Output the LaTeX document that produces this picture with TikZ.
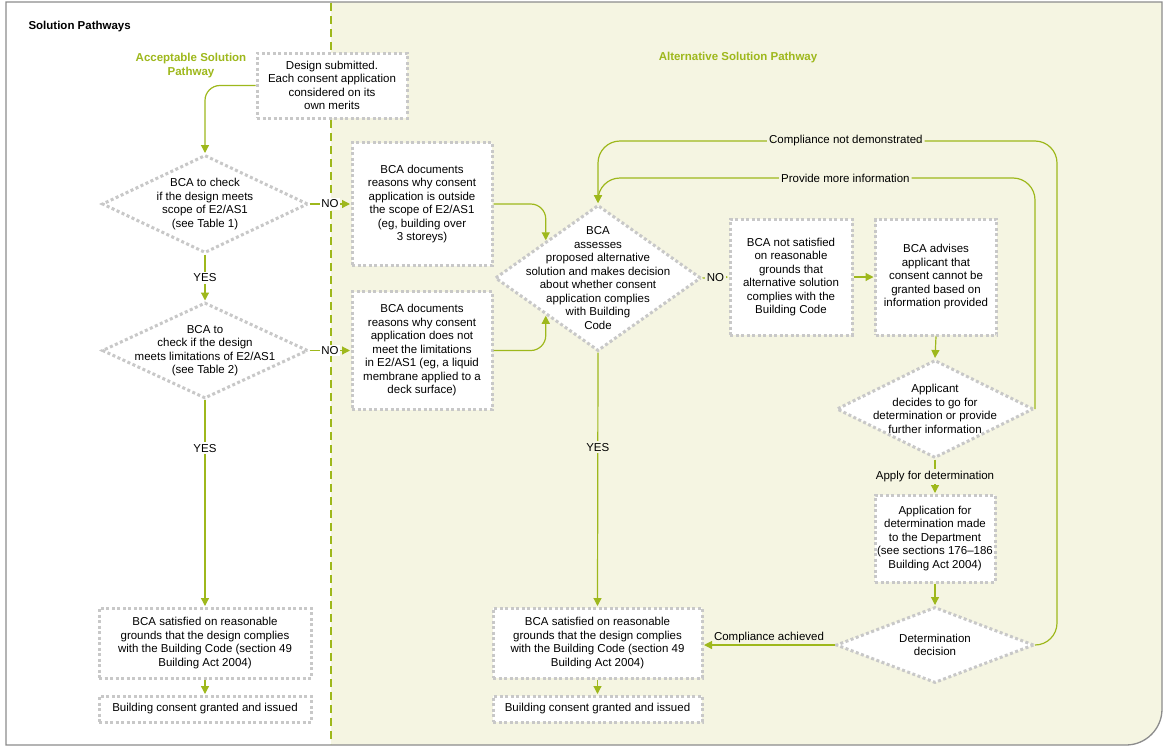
\documentclass[tikz,border=0pt]{standalone}
\usepackage{fontspec}
\setmainfont{Liberation Sans}
\usetikzlibrary{shapes.geometric,arrows.meta,calc}
\definecolor{lgreen}{RGB}{158,184,28}
\definecolor{beige}{RGB}{245,245,226}
\definecolor{dotgray}{RGB}{200,200,200}
\definecolor{framegray}{RGB}{140,140,140}
\newcommand\myfont{\fontsize{11.5}{13.5}\selectfont}
\begin{document}
\begin{tikzpicture}[x=1pt,y=-1pt,
 box/.style={draw=dotgray, line width=3pt, dash pattern=on 3pt off 2.5pt, fill=white, align=center, font=\myfont, inner sep=0pt},
 dia/.style={diamond, draw=dotgray, line width=3pt, dash pattern=on 3pt off 2.5pt, fill=white, inner sep=0pt},
 dtext/.style={align=center, font=\myfont, inner sep=0pt},
 conn/.style={draw=lgreen, line width=1.2pt, -{Triangle[length=8pt,width=8pt]}, shorten >=0.5pt},
 lbl/.style={font=\myfont, fill=white, inner sep=2pt},
 lblb/.style={font=\myfont, fill=beige, inner sep=2pt},
]
\useasboundingbox (0,0) rectangle (1165,747);
\fill[white] (0,0) rectangle (1165,747);
\fill[beige] (331,2) -- (1162,2) -- (1162,709) arc[start angle=0,end angle=90,radius=36] -- (331,745) -- cycle;
\draw[framegray, line width=1.3pt] (6,745) -- (6,2) -- (1162,2) -- (1162,709) arc[start angle=0,end angle=90,radius=36] -- cycle;
\draw[lgreen, line width=1.5pt, dash pattern=on 8pt off 5pt] (331,3) -- (331,744);

% headings
\node[font=\bfseries\myfont, anchor=west] (title) at (25,27) {Solution Pathways};
\node[font=\bfseries\myfont, text=lgreen, align=center] (h1) at (191,65.5) {Acceptable Solution\\Pathway};
\node[font=\bfseries\myfont, text=lgreen] (h2) at (738,58) {Alternative Solution Pathway};

% left column
\node[box, minimum width=150pt, minimum height=65pt] (b0) at (332,85.5) {Design submitted.\\Each consent application\\considered on its\\own merits};
\node[dia, minimum width=206pt, minimum height=98pt, label={[dtext]center:{BCA to check\\if the design meets\\scope of E2/AS1\\(see Table 1)}}] (d1) at (205,204) {};
\node[dia, minimum width=206pt, minimum height=96pt, label={[dtext]center:{BCA to\\check if the design\\meets limitations of E2/AS1\\(see Table 2)}}] (d2) at (205,350.5) {};
\node[box, minimum width=212pt, minimum height=70pt] (bl1) at (205,643) {BCA satisfied on reasonable\\grounds that the design complies\\with the Building Code (section 49\\Building Act 2004)};
\node[box, minimum width=212pt, minimum height=26pt] (bl2) at (205,709) {Building consent granted and issued};

% middle
\node[box, minimum width=140pt, minimum height=123pt] (b3) at (422,204) {BCA documents\\reasons why consent\\application is outside\\the scope of E2/AS1\\(eg, building over\\3 storeys)};
\node[box, minimum width=140pt, minimum height=118pt] (b4) at (422,350.5) {BCA documents\\reasons why consent\\application does not\\meet the limitations\\in E2/AS1 (eg, a liquid\\membrane applied to a\\deck surface)};
\node[dia, minimum width=206pt, minimum height=146pt, label={[dtext]center:{BCA\\assesses\\proposed alternative\\solution and makes decision\\about whether consent\\application complies\\with Building\\Code}}] (d3) at (598,278) {};
\node[box, minimum width=209pt, minimum height=70pt] (b8) at (597.5,643) {BCA satisfied on reasonable\\grounds that the design complies\\with the Building Code (section 49\\Building Act 2004)};
\node[box, minimum width=209pt, minimum height=26pt] (b9) at (597.5,709) {Building consent granted and issued};

% right
\node[box, minimum width=122pt, minimum height=116pt] (b5) at (791,277) {BCA not satisfied\\on reasonable\\grounds that\\alternative solution\\complies with the\\Building Code};
\node[box, minimum width=121pt, minimum height=116pt] (b6) at (936,277) {BCA advises\\applicant that\\consent cannot be\\granted based on\\information provided};
\node[dia, minimum width=197pt, minimum height=98pt, label={[dtext]center:{Applicant\\decides to go for\\determination or provide\\further information}}] (d4) at (935,409) {};
\node[box, minimum width=120pt, minimum height=87pt] (b7) at (935,538.5) {Application for\\determination made\\to the Department\\(see sections 176--186\\Building Act 2004)};
\node[dia, minimum width=198pt, minimum height=76pt, label={[dtext]center:{Determination\\decision}}] (d5) at (935,645) {};

\coordinate (c1) at (1057,141);
\coordinate (c2) at (598,178);
\coordinate (d3a) at ($(d3.north)!0.5!(d3.west)$);
\coordinate (d3b) at ($(d3.south)!0.5!(d3.west)$);

% connectors
\draw[conn, rounded corners=15pt] (b0.west) -| (d1.north);
\draw[conn] (d1.south) -- node[lbl]{YES} (d2.north);
\draw[conn] (d2.south) -- node[lbl, pos=0.234]{YES} (bl1.north);
\draw[conn] (bl1.south) -- (bl2.north);
\draw[conn] (d1.east) -- node[lbl, inner sep=1.5pt]{NO} (b3.west);
\draw[conn] (d2.east) -- node[lbl, inner sep=1.5pt]{NO} (b4.west);
\draw[conn, rounded corners=15pt] (b3.east) -| (d3a);
\draw[conn, rounded corners=15pt] (b4.east) -| (d3b);
\draw[conn] (d3.east) -- node[lblb, inner sep=1.5pt]{NO} (b5.west);
\draw[conn] (b5.east) -- (b6.west);
\draw[conn] (b6.south) -- (d4.north);
\draw[conn] (d4.south) -- node[lblb]{Apply for determination} (b7.north);
\draw[conn] (b7.south) -- (d5.north);
\draw[conn] (d5.west) -- node[font=\myfont, above, inner sep=1.5pt]{Compliance achieved} (b8.east |- d5.west);
\draw[conn] (d3.south) -- node[lblb, pos=0.373]{YES} (b8.north);
\draw[conn] (b8.south) -- (b9.north);
\draw[conn, rounded corners=22pt] (d5.east) -| (c1) -| node[lblb, pos=0.23]{Compliance not demonstrated} (d3.north);
\draw[conn, rounded corners=22pt] (d4.east) |- node[lblb, pos=0.717]{Provide more information} (c2) -- (d3.north);
\end{tikzpicture}
\end{document}
